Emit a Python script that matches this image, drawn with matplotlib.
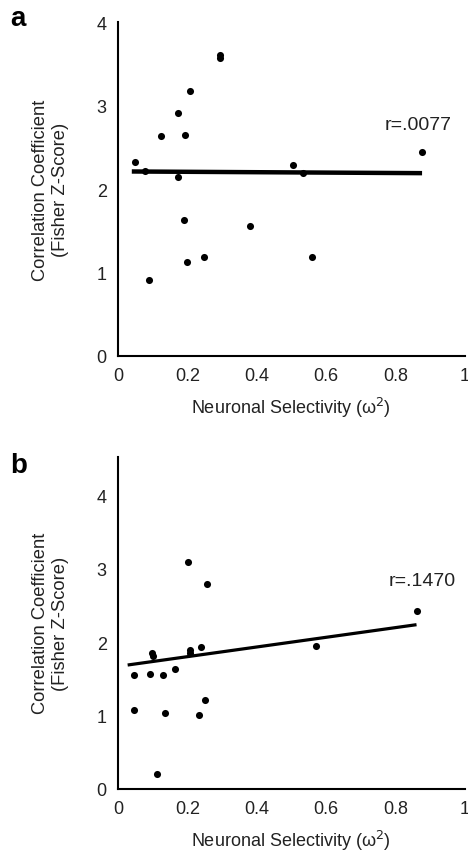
import numpy as np
import matplotlib
matplotlib.use("Agg")
import matplotlib.pyplot as plt

plt.rcParams['font.family'] = ['Liberation Sans', 'DejaVu Sans']

# panel a data
a_x = [0.049, 0.078, 0.089, 0.124, 0.172, 0.172, 0.193, 0.190, 0.199, 0.209,
       0.247, 0.293, 0.295, 0.381, 0.506, 0.533, 0.559, 0.876]
a_y = [2.32, 2.22, 0.91, 2.63, 2.91, 2.14, 2.65, 1.63, 1.13, 3.18,
       1.19, 3.57, 3.61, 1.56, 2.29, 2.19, 1.19, 2.44]
a_fit_x = [0.040, 0.877]
a_fit_y = [2.21, 2.19]
a_r = "r=.0077"

# panel b data
b_x = [0.047, 0.047, 0.092, 0.099, 0.102, 0.114, 0.130, 0.135, 0.164, 0.201,
       0.207, 0.207, 0.233, 0.239, 0.251, 0.256, 0.572, 0.861]
b_y = [1.55, 1.08, 1.57, 1.86, 1.81, 0.20, 1.56, 1.03, 1.64, 3.10,
       1.89, 1.86, 1.01, 1.93, 1.21, 2.80, 1.95, 2.42]
b_fit_x = [0.028, 0.861]
b_fit_y = [1.69, 2.24]
b_r = "r=.1470"

xticks = [0, 0.2, 0.4, 0.6, 0.8, 1]
xticklabels = ["0", "0.2", "0.4", "0.6", "0.8", "1"]
yticks = [0, 1, 2, 3, 4]

fig = plt.figure(figsize=(4.68, 8.54), dpi=100)


def panel(rect, xs, ys, fx, fy, rtxt, ymax, lw, rpos, letter, letter_y):
    ax = fig.add_axes(rect)
    ax.scatter(xs, ys, s=26, color='black', zorder=3, linewidths=0)
    ax.plot(fx, fy, color='black', lw=lw, solid_capstyle='butt')
    ax.set_xlim(0, 1)
    ax.set_ylim(0, ymax)
    ax.set_xticks(xticks)
    ax.set_xticklabels(xticklabels)
    ax.set_yticks(yticks)
    ax.tick_params(length=0, labelsize=13, pad=8, colors='#222222')
    for s in ['top', 'right']:
        ax.spines[s].set_visible(False)
    for s in ['left', 'bottom']:
        ax.spines[s].set_linewidth(1.5)
    ax.set_xlabel("Neuronal Selectivity (ω$^2$)", fontsize=13, labelpad=8, color='#222222')
    ax.set_ylabel("Correlation Coefficient\n(Fisher Z-Score)", fontsize=13.2, labelpad=20, color='#222222')
    ax.text(rpos[0], rpos[1], rtxt, fontsize=14, ha='left', va='center', color='#222222')
    fig.text(0.022, letter_y, letter, fontsize=20, fontweight='bold', va='center')
    return ax


panel([0.252, 0.582, 0.741, 0.391], a_x, a_y, a_fit_x, a_fit_y, a_r, 4.0, 3.2,
      (0.77, 2.77), "a", 0.978)
panel([0.252, 0.075, 0.741, 0.389], b_x, b_y, b_fit_x, b_fit_y, b_r, 4.53, 2.3,
      (0.78, 2.84), "b", 0.454)

fig.savefig("out.png", dpi=100)
